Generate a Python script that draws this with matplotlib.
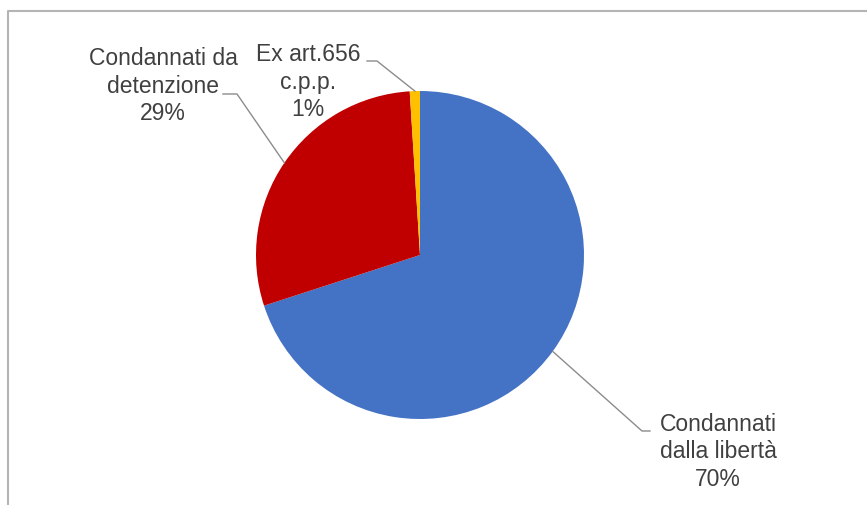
import matplotlib.pyplot as plt
import numpy as np

# dati
labels = ['Condannati\ndalla libertà', 'Condannati da\ndetenzione', 'Ex art.656\nc.p.p.']
values = [70, 29, 1]
colors = ['#4472C4', '#C00000', '#FFC000']

W, H = 867, 506
fig = plt.figure(figsize=(W / 100, H / 100), dpi=100)
ax = fig.add_axes([0, 0, 1, 1])

cx, cy, r = 420, H - 256, 164
wedges, _ = ax.pie(values, colors=colors, startangle=90, counterclock=False,
                   center=(cx, cy), radius=r, frame=True,
                   wedgeprops={'linewidth': 0})
ax.set_xlim(0, W)
ax.set_ylim(0, H)
ax.set_aspect('equal')
ax.axis('off')

# posizioni etichette (pixel immagine: x, y dall'alto)
text_pos = [(718, 452), (163, 86), (308, 82)]
elbows = [(642, 432), (237, 95), (377, 62)]
ends = [(650, 432), (223, 95), (367, 62)]

font = {'family': 'Liberation Sans', 'size': 16.5, 'color': '#404040'}

for w, lab, v, tp, el, en in zip(wedges, labels, values, text_pos, elbows, ends):
    mid = np.deg2rad((w.theta1 + w.theta2) / 2)
    ex, ey = cx + r * np.cos(mid), cy + r * np.sin(mid)
    ax.plot([ex, el[0], en[0]], [ey, H - el[1], H - en[1]], color='#8c8c8c', lw=1)
    ax.text(tp[0], H - tp[1], f'{lab}\n{v}%', ha='center', va='center',
            multialignment='center', linespacing=1.25, fontdict=font)

# bordo del riquadro
ax.plot([8, 8, W + 5], [-5, H - 12, H - 12], color='#b4b4b4', lw=1.5, clip_on=False)

fig.savefig('out.png', dpi=100)
